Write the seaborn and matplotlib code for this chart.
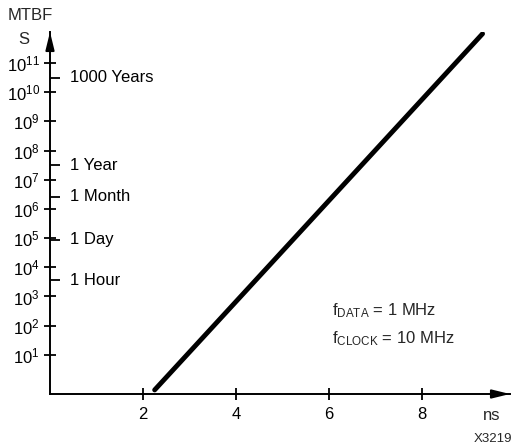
import matplotlib
matplotlib.use("Agg")
import matplotlib.pyplot as plt
import pandas as pd
import seaborn as sns
from matplotlib.ticker import FixedLocator, NullFormatter

# Resolution time (ns) vs. mean time between failures (s); straight line on a log axis
t_ns = [2.25, 9.3]
mtbf_s = [0.63, 1.0e12]

# Axis ticks
decades = list(range(1, 12))
x_ticks = [2, 4, 6, 8]

# Reference durations marked on the MTBF axis
ref_names = ["1000 Years", "1 Year", "1 Month", "1 Day", "1 Hour"]
ref_seconds = [3.15e10, 3.15e7, 2.6e6, 8.64e4, 3.6e3]

sns.set_theme(style="ticks")
plt.rcParams["font.family"] = ["Liberation Sans", "DejaVu Sans"]
plt.rcParams["mathtext.fontset"] = "custom"
plt.rcParams["mathtext.rm"] = "Liberation Sans"
plt.rcParams["mathtext.it"] = "Liberation Sans:italic"
plt.rcParams["mathtext.bf"] = "Liberation Sans:bold"

FS = 12

W, H = 512, 447
fig = plt.figure(figsize=(W / 100, H / 100), dpi=100)
fig.patch.set_facecolor("white")
ax = fig.add_axes([50 / W, 53 / H, 460 / W, 362 / H])
ax.set_facecolor("white")

df = pd.DataFrame({"t": t_ns, "mtbf": mtbf_s})
sns.lineplot(data=df, x="t", y="mtbf", ax=ax, color="black",
             linewidth=3.5, solid_capstyle="round")

ax.set_yscale("log")
ax.set_xlim(0, 9.89)
ax.set_ylim(10 ** -0.34, 10 ** 12.06)
ax.set_xlabel("")
ax.set_ylabel("")

for side in ("top", "right"):
    ax.spines[side].set_visible(False)
for side in ("left", "bottom"):
    ax.spines[side].set_linewidth(1.4)
    ax.spines[side].set_color("black")

# Arrow heads at the ends of both axes
arrow = dict(arrowstyle="-|>,head_length=0.9,head_width=0.22", color="black",
             lw=1.4, mutation_scale=12, shrinkA=0, shrinkB=0)
ax.annotate("", xy=(0, 1.0), xytext=(0, 0.97), xycoords="axes fraction",
            arrowprops=arrow, annotation_clip=False)
ax.annotate("", xy=(1.0, 0), xytext=(0.97, 0), xycoords="axes fraction",
            arrowprops=arrow, annotation_clip=False)

# Y axis: decades
ax.yaxis.set_major_locator(FixedLocator([10.0 ** n for n in decades]))
ax.set_yticklabels([f"$10^{{{n}}}$" for n in decades])
ax.yaxis.set_minor_locator(FixedLocator(ref_seconds))
ax.yaxis.set_minor_formatter(NullFormatter())
ax.tick_params(axis="y", which="major", direction="inout", length=8.5,
               width=1.3, pad=3, labelsize=FS, colors="black")
ax.tick_params(axis="y", which="minor", direction="in", length=7.5,
               width=1.3, colors="black")

# X axis
ax.set_xticks(x_ticks)
ax.set_xticklabels([str(v) for v in x_ticks])
ax.xaxis.set_minor_locator(FixedLocator([]))
ax.tick_params(axis="x", which="major", direction="inout", length=8.5,
               width=1.3, pad=5, labelsize=FS, colors="black")

for name, sec in zip(ref_names, ref_seconds):
    ax.text(20 / 460, sec, name, transform=ax.get_yaxis_transform(),
            ha="left", va="center", fontsize=FS, color="black")

def fx(px):
    return px / W

def fy(py):
    return 1 - py / H

fig.text(fx(30), fy(16), "MTBF", ha="center", va="center", fontsize=FS)
fig.text(fx(24), fy(39), "S", ha="center", va="center", fontsize=FS)
fig.text(fx(492), fy(415), "ns", ha="center", va="center", fontsize=FS)
fig.text(fx(493), fy(439), "X3219", ha="center", va="center", fontsize=9.5)
fig.text(fx(332), fy(311), r"f$_{\mathrm{DATA}}$ = 1 MHz", ha="left",
         va="center", fontsize=FS)
fig.text(fx(332), fy(339), r"f$_{\mathrm{CLOCK}}$ = 10 MHz", ha="left",
         va="center", fontsize=FS)

fig.savefig("out.png", dpi=100, facecolor="white")
